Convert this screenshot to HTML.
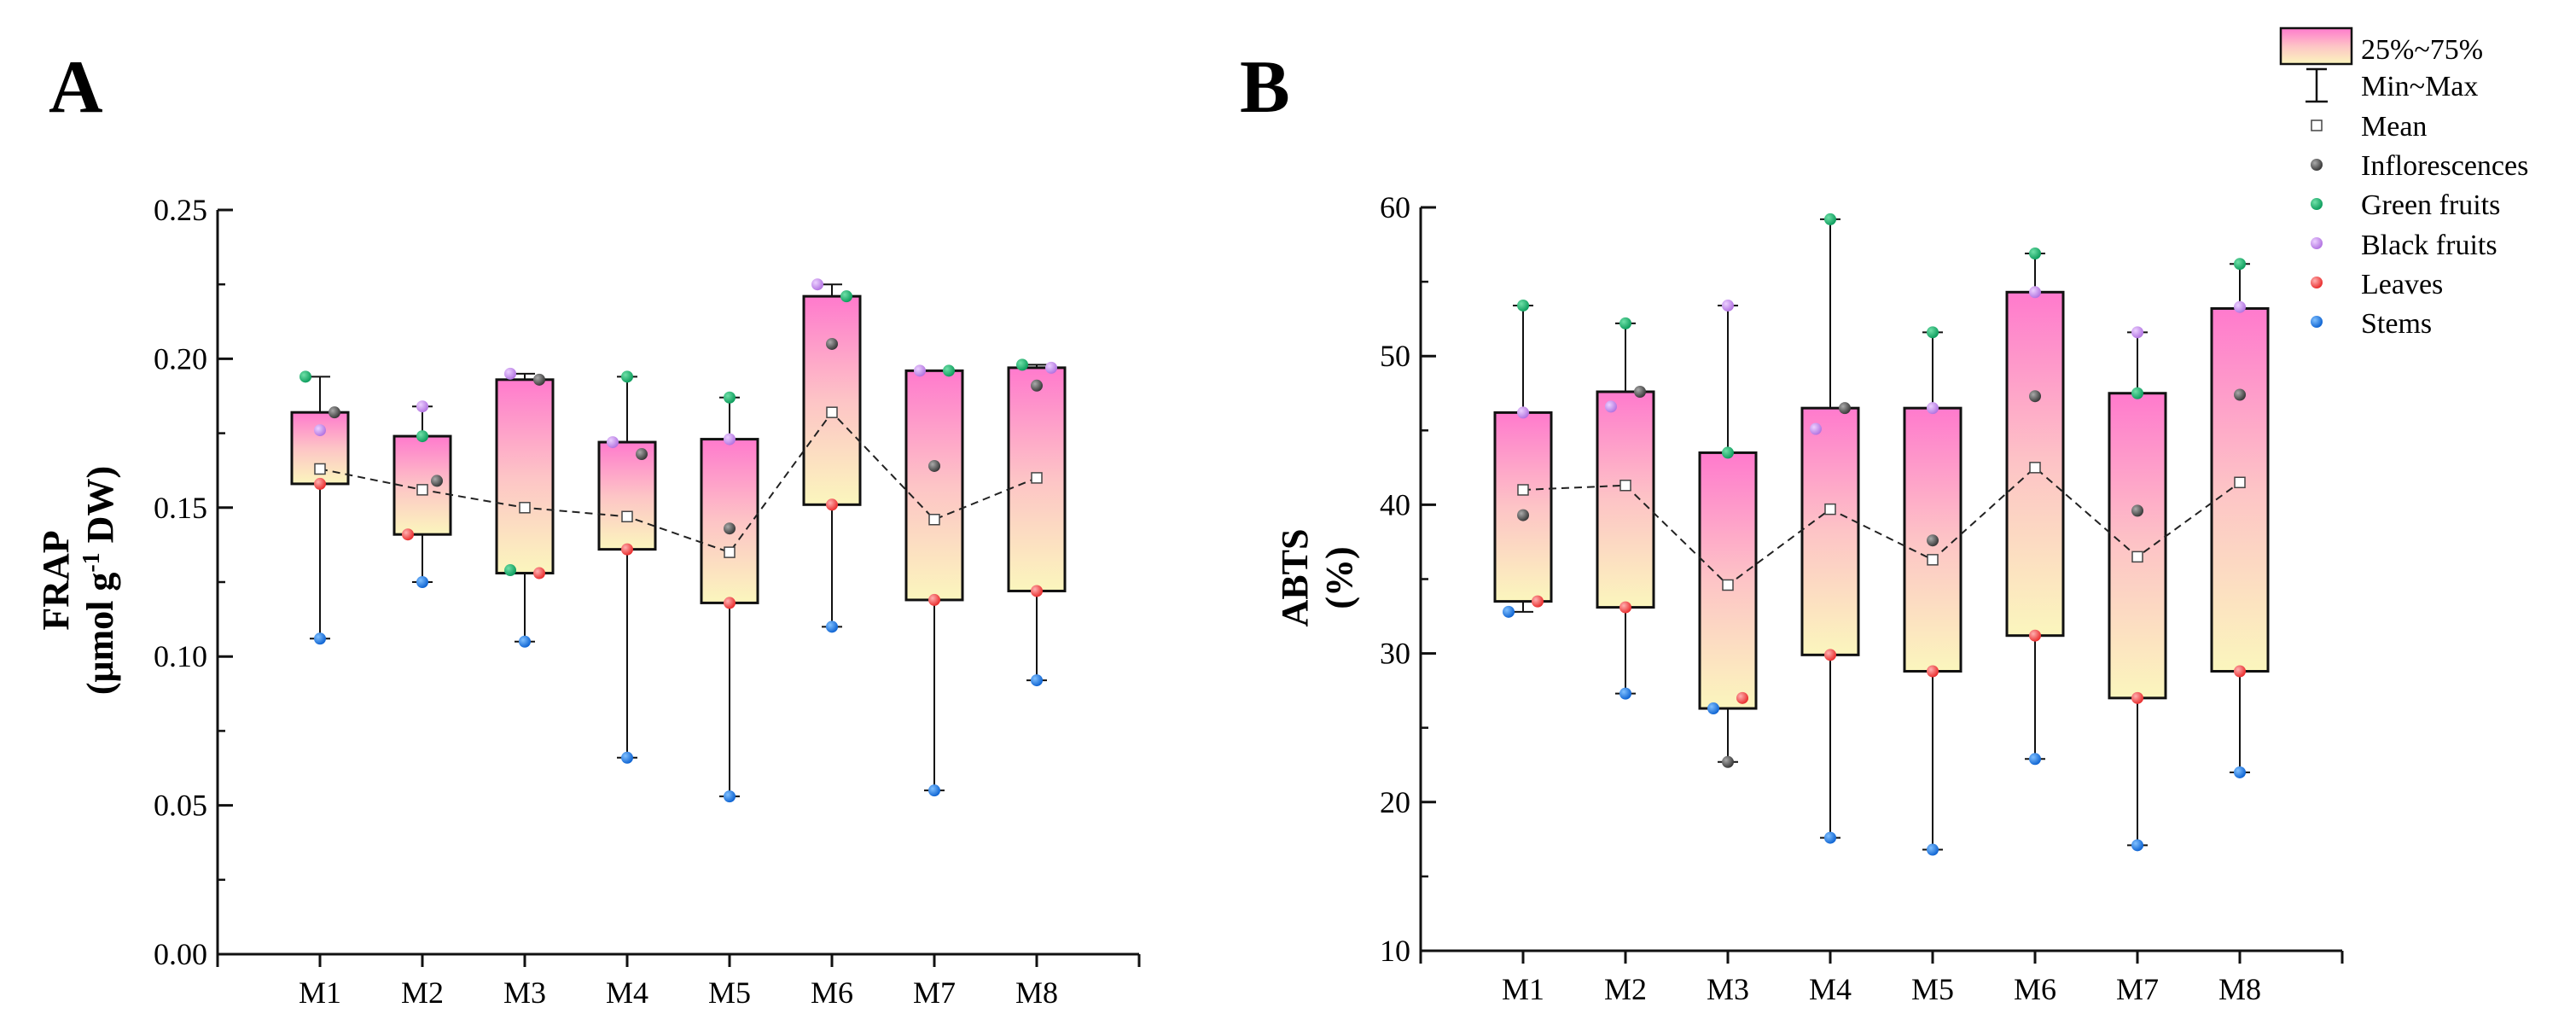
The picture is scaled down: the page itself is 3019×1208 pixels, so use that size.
<!DOCTYPE html>
<html><head><meta charset="utf-8"><style>
html,body{margin:0;padding:0;background:#fff;}
svg{display:block;font-family:"Liberation Serif",serif;}
</style></head><body>
<svg id="chart" width="3019" height="1208" viewBox="0 0 3019 1208" xmlns="http://www.w3.org/2000/svg">
<defs>
<linearGradient id="boxg" x1="0" y1="0" x2="0" y2="1">
<stop offset="0" stop-color="#ff7acd"/><stop offset="0.5" stop-color="#fdc4c6"/><stop offset="1" stop-color="#fbf6bd"/>
</linearGradient>
<radialGradient id="g-infl" cx="0.35" cy="0.35" r="0.7"><stop offset="0" stop-color="#aaa"/><stop offset="1" stop-color="#333"/></radialGradient>
<radialGradient id="g-green" cx="0.35" cy="0.35" r="0.7"><stop offset="0" stop-color="#6fe0a8"/><stop offset="1" stop-color="#0a9a5a"/></radialGradient>
<radialGradient id="g-black" cx="0.35" cy="0.35" r="0.7"><stop offset="0" stop-color="#ecd0ff"/><stop offset="1" stop-color="#b070e0"/></radialGradient>
<radialGradient id="g-red" cx="0.35" cy="0.35" r="0.7"><stop offset="0" stop-color="#ffb0b0"/><stop offset="1" stop-color="#e82828"/></radialGradient>
<radialGradient id="g-blue" cx="0.35" cy="0.35" r="0.7"><stop offset="0" stop-color="#80c0ff"/><stop offset="1" stop-color="#0a60d0"/></radialGradient>
</defs>
<text x="57" y="131" font-size="88" font-weight="bold">A</text>
<text x="1453" y="131" font-size="88" font-weight="bold">B</text>
<g transform="translate(80,680) rotate(-90)">
<text x="0" y="0" font-size="44" font-weight="bold" text-anchor="middle">FRAP</text>
<text x="0" y="52" font-size="44" font-weight="bold" text-anchor="middle">(μmol g<tspan font-size="28" dy="-16">-1</tspan><tspan dy="16"> DW)</tspan></text>
</g>
<g transform="translate(1532,677) rotate(-90)">
<text x="0" y="0" font-size="44" font-weight="bold" text-anchor="middle">ABTS</text>
<text x="0" y="52" font-size="44" font-weight="bold" text-anchor="middle">(%)</text>
</g>
<g id="plotA"></g>
<g id="plotB"></g>
<g id="legend">
<rect x="2673" y="33" width="83" height="42" fill="url(#boxg)" stroke="#111" stroke-width="2.5"/>
<text x="2767" y="69" font-size="34">25%~75%</text>
<g stroke="#111" stroke-width="2.5"><line x1="2715" y1="81" x2="2715" y2="119"/><line x1="2703" y1="81" x2="2727" y2="81"/><line x1="2702" y1="119" x2="2728" y2="119"/></g>
<text x="2767" y="112" font-size="34">Min~Max</text>
<rect x="2709" y="141" width="12" height="12" fill="#fff" stroke="#444" stroke-width="1.5"/>
<text x="2767" y="159" font-size="34">Mean</text>
<circle cx="2715" cy="193" r="7" fill="url(#g-infl)"/>
<text x="2767" y="205" font-size="34">Inflorescences</text>
<circle cx="2715" cy="239" r="7" fill="url(#g-green)"/>
<text x="2767" y="251" font-size="34">Green fruits</text>
<circle cx="2715" cy="285" r="7" fill="url(#g-black)"/>
<text x="2767" y="298" font-size="34">Black fruits</text>
<circle cx="2715" cy="331" r="7" fill="url(#g-red)"/>
<text x="2767" y="344" font-size="34">Leaves</text>
<circle cx="2715" cy="377" r="7" fill="url(#g-blue)"/>
<text x="2767" y="390" font-size="34">Stems</text>
</g>
</svg>
<script>
const categories = ["M1","M2","M3","M4","M5","M6","M7","M8"];
// Panel A (FRAP)
const aQ3 = [0.182,0.174,0.193,0.172,0.173,0.221,0.196,0.197];
const aQ1 = [0.158,0.141,0.128,0.136,0.118,0.151,0.119,0.122];
const aMax = [0.194,0.184,0.195,0.194,0.187,0.225,0.196,0.198];
const aMin = [0.106,0.125,0.105,0.066,0.053,0.110,0.055,0.092];
const aMean = [0.163,0.156,0.150,0.147,0.135,0.182,0.146,0.160];
const aInfl = [0.182,0.159,0.193,0.168,0.143,0.205,0.164,0.191];
const aGreen = [0.194,0.174,0.129,0.194,0.187,0.221,0.196,0.198];
const aBlack = [0.176,0.184,0.195,0.172,0.173,0.225,0.196,0.197];
const aLeaves = [0.158,0.141,0.128,0.136,0.118,0.151,0.119,0.122];
const aStems = [0.106,0.125,0.105,0.066,0.053,0.110,0.055,0.092];
const aTicks = ["0.00","0.05","0.10","0.15","0.20","0.25"];
// Panel B (ABTS)
const bQ3 = [46.2,47.6,43.5,46.5,46.5,54.3,47.5,53.2];
const bQ1 = [33.5,33.1,26.3,29.9,28.8,31.2,27.0,28.8];
const bMax = [53.4,52.2,53.4,59.2,51.6,56.9,51.6,56.2];
const bMin = [32.8,27.3,22.7,17.6,16.8,22.9,17.1,22.0];
const bMean = [41.0,41.3,34.6,39.7,36.3,42.5,36.5,41.5];
const bInfl = [39.3,47.6,22.7,46.5,37.6,47.3,39.6,47.4];
const bGreen = [53.4,52.2,43.5,59.2,51.6,56.9,47.5,56.2];
const bBlack = [46.2,46.6,53.4,45.1,46.5,54.3,51.6,53.3];
const bLeaves = [33.5,33.1,27.0,29.9,28.8,31.2,27.0,28.8];
const bStems = [32.8,27.3,26.3,17.6,16.8,22.9,17.1,22.0];
const bTicks = ["10","20","30","40","50","60"];
// horizontal offsets of points (in category units)
const aOff = {infl:[1,1,1,1,0,0,0,0],green:[-1,0,-1,0,0,1,1,-1],black:[0,0,-1,-1,0,-1,-1,1],leaves:[0,-1,1,0,0,0,0,0],stems:[0,0,0,0,0,0,0,0]};
const bOff = {infl:[0,1,0,1,0,0,0,0],green:[0,0,0,0,0,0,0,0],black:[0,-1,0,-1,0,0,0,0],leaves:[1,0,1,0,0,0,0,0],stems:[-1,0,-1,0,0,0,0,0]};

const NS="http://www.w3.org/2000/svg";
function mk(parent,tag,attrs){const e=document.createElementNS(NS,tag);for(const k in attrs)e.setAttribute(k,attrs[k]);parent.appendChild(e);return e;}

function draw(g,cfg){
  const xs=i=>cfg.x0+cfg.step*(i+1);
  const ys=v=>cfg.yb-(v-cfg.ymin)/(cfg.ymax-cfg.ymin)*(cfg.yb-cfg.yt);
  const xEnd=cfg.x0+cfg.step*9;
  // axes
  let ax=mk(g,'line',{x1:cfg.x0,y1:cfg.yt,x2:cfg.x0,y2:cfg.yb+15,stroke:'#111','stroke-width':3});
  
  
  let xa=mk(g,'line',{x1:cfg.x0,y1:cfg.yb,x2:xEnd,y2:cfg.yb,stroke:'#111','stroke-width':3});
  
  
  mk(g,'line',{x1:xEnd,y1:cfg.yb,x2:xEnd,y2:cfg.yb+15,stroke:'#111','stroke-width':3});
  cfg.ticks.forEach((t,k)=>{
    const v=parseFloat(t);const y=ys(v);
    mk(g,'line',{x1:cfg.x0,y1:y,x2:cfg.x0+18,y2:y,stroke:'#111','stroke-width':3});
    if(k<cfg.ticks.length-1){const ym=ys(v+cfg.minor);mk(g,'line',{x1:cfg.x0,y1:ym,x2:cfg.x0+9,y2:ym,stroke:'#111','stroke-width':2.5});}
    const tl=mk(g,'text',{x:cfg.x0-12,y:y+12,'font-size':36,'text-anchor':'end'});
    tl.textContent=t;
    
    
  });
  categories.forEach((c,i)=>{
    const x=xs(i);
    mk(g,'line',{x1:x,y1:cfg.yb,x2:x,y2:cfg.yb+15,stroke:'#111','stroke-width':3});
    const tl=mk(g,'text',{x:x,y:cfg.yb+57,'font-size':36,'text-anchor':'middle'});
    tl.textContent=c;
    
    
  });
  // boxes
  categories.forEach((c,i)=>{
    const x=xs(i);
    const wg=mk(g,'g',{stroke:'#111','stroke-width':2});
    
    
    mk(wg,'line',{x1:x,y1:ys(cfg.max[i]),x2:x,y2:ys(cfg.min[i])});
    mk(wg,'line',{x1:x-12,y1:ys(cfg.max[i]),x2:x+12,y2:ys(cfg.max[i])});
    mk(wg,'line',{x1:x-12,y1:ys(cfg.min[i]),x2:x+12,y2:ys(cfg.min[i])});
    const b=mk(g,'rect',{x:x-33,y:ys(cfg.q3[i]),width:66,height:ys(cfg.q1[i])-ys(cfg.q3[i]),fill:'url(#boxg)',stroke:'#111','stroke-width':3});
    
    
  });
  // mean line
  const pts=categories.map((c,i)=>xs(i)+','+ys(cfg.mean[i])).join(' ');
  const pl=mk(g,'polyline',{points:pts,fill:'none',stroke:'#222','stroke-width':2,'stroke-dasharray':'9,6'});
  
  
  categories.forEach((c,i)=>{
    const m=mk(g,'rect',{x:xs(i)-6,y:ys(cfg.mean[i])-6,width:12,height:12,fill:'#fff',stroke:'#444','stroke-width':1.5});
    
    
  });
  const series=[['stems',cfg.stems,'g-blue'],['leaves',cfg.leaves,'g-red'],['black',cfg.black,'g-black'],['green',cfg.green,'g-green'],['infl',cfg.infl,'g-infl']];
  series.forEach(s=>{
    categories.forEach((c,i)=>{
      const p=mk(g,'circle',{cx:xs(i)+cfg.off[s[0]][i]*17,cy:ys(s[1][i]),r:7,fill:'url(#'+s[2]+')'});
      
      
    });
  });
}
draw(document.getElementById('plotA'),{x0:255,step:120,yt:246,yb:1118,ymin:0,ymax:0.25,minor:0.025,ticks:aTicks,q1:aQ1,q3:aQ3,max:aMax,min:aMin,mean:aMean,infl:aInfl,green:aGreen,black:aBlack,leaves:aLeaves,stems:aStems,off:aOff});
draw(document.getElementById('plotB'),{x0:1665,step:120,yt:243,yb:1114,ymin:10,ymax:60,minor:5,ticks:bTicks,q1:bQ1,q3:bQ3,max:bMax,min:bMin,mean:bMean,infl:bInfl,green:bGreen,black:bBlack,leaves:bLeaves,stems:bStems,off:bOff});
</script>
</body></html>
